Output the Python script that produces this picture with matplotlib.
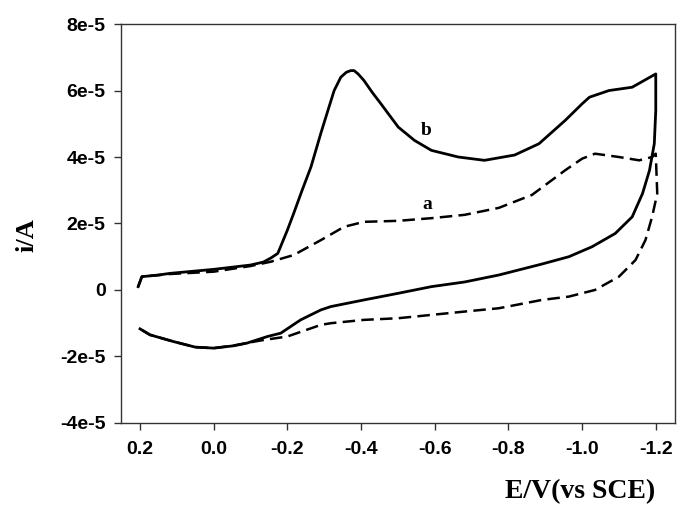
import matplotlib
matplotlib.use("Agg")
import matplotlib.pyplot as plt

# curve b (solid): forward scan then return scan, E in V, i in units of 1e-5 A
b_fwd_E = [0.205, 0.195, 0.15, 0.118, 0.0, -0.1, -0.135, -0.155, -0.174, -0.2, -0.217, -0.24, -0.264,
           -0.291, -0.31, -0.327, -0.345, -0.36, -0.372, -0.381, -0.392, -0.408, -0.43, -0.454, -0.501,
           -0.545, -0.591, -0.664, -0.735, -0.817, -0.883, -0.954, -1.0, -1.02, -1.073, -1.136, -1.2]
b_fwd_i = [0.1, 0.4, 0.45, 0.5, 0.62, 0.75, 0.84, 0.96, 1.1, 1.8, 2.3, 3.0, 3.7,
           4.72, 5.4, 6.0, 6.4, 6.55, 6.6, 6.6, 6.5, 6.3, 5.95, 5.6, 4.9,
           4.5, 4.2, 4.0, 3.9, 4.06, 4.4, 5.1, 5.6, 5.8, 6.0, 6.1, 6.5]
b_ret_E = [-1.2, -1.2, -1.196, -1.183, -1.164, -1.136, -1.09, -1.027, -0.964, -0.891, -0.774,
           -0.681, -0.591, -0.501, -0.408, -0.318, -0.291, -0.236, -0.182, -0.146, -0.09, -0.054,
           0.0, 0.05, 0.11, 0.173, 0.2]
b_ret_i = [6.5, 5.4, 4.4, 3.6, 2.9, 2.2, 1.7, 1.3, 1.0, 0.78, 0.45,
           0.24, 0.1, -0.1, -0.3, -0.5, -0.6, -0.9, -1.3, -1.4, -1.6, -1.68,
           -1.75, -1.72, -1.55, -1.35, -1.17]

# curve a (dashed)
a_fwd_E = [0.205, 0.195, 0.118, 0.0, -0.1, -0.155, -0.217, -0.291, -0.354, -0.408, -0.501,
           -0.591, -0.681, -0.774, -0.864, -0.954, -1.0, -1.035, -1.1, -1.155, -1.19, -1.2]
a_fwd_i = [0.1, 0.4, 0.48, 0.55, 0.72, 0.85, 1.05, 1.5, 1.9, 2.05, 2.08,
           2.16, 2.26, 2.47, 2.86, 3.6, 3.95, 4.1, 4.0, 3.9, 4.0, 4.1]
a_ret_E = [-1.2, -1.204, -1.19, -1.172, -1.145, -1.1, -1.035, -0.964, -0.891, -0.774, -0.681,
           -0.591, -0.501, -0.408, -0.318, -0.291, -0.2, -0.127, -0.05, 0.0, 0.05, 0.11, 0.173, 0.2]
a_ret_i = [4.1, 2.9, 2.2, 1.5, 0.9, 0.4, 0.0, -0.2, -0.3, -0.55, -0.65,
           -0.75, -0.85, -0.9, -1.0, -1.05, -1.4, -1.52, -1.68, -1.75, -1.72, -1.55, -1.35, -1.17]

x_ticks = [0.2, 0.0, -0.2, -0.4, -0.6, -0.8, -1.0, -1.2]
x_labels = ["0.2", "0.0", "-0.2", "-0.4", "-0.6", "-0.8", "-1.0", "-1.2"]
y_ticks = [-4e-5, -2e-5, 0, 2e-5, 4e-5, 6e-5, 8e-5]
y_labels = ["-4e-5", "-2e-5", "0", "2e-5", "4e-5", "6e-5", "8e-5"]

scale = 1e-5

fig = plt.figure(figsize=(6.79, 5.12), dpi=100)
ax = fig.add_axes([0.178, 0.174, 0.816, 0.779])

ax.plot(b_fwd_E + b_ret_E, [v * scale for v in b_fwd_i + b_ret_i], color="black", lw=2.0)
ax.plot(a_fwd_E + a_ret_E, [v * scale for v in a_fwd_i + a_ret_i], color="black", lw=1.8,
        dashes=(5, 2.5))

ax.text(-0.577, 4.8e-5, "b", fontfamily="Liberation Serif", fontweight="bold", fontsize=14,
        ha="center", va="center")
ax.text(-0.58, 2.56e-5, "a", fontfamily="Liberation Serif", fontweight="bold", fontsize=14,
        ha="center", va="center")

ax.set_xlim(0.252, -1.252)
ax.set_ylim(-4e-5, 8e-5)
ax.set_xticks(x_ticks)
ax.set_xticklabels(x_labels)
ax.set_yticks(y_ticks)
ax.set_yticklabels(y_labels)

for lab in ax.get_xticklabels() + ax.get_yticklabels():
    lab.set_fontfamily("Liberation Sans")
    lab.set_fontweight("bold")
    lab.set_fontsize(14)

ax.tick_params(axis="both", direction="out", length=5, width=1, color="#333333")
ax.tick_params(axis="x", pad=8)
ax.tick_params(axis="y", pad=6)
for s in ax.spines.values():
    s.set_linewidth(1.0)
    s.set_color("#333333")

ax.set_xlabel("E/V(vs SCE)", fontfamily="Liberation Serif", fontweight="bold", fontsize=20)
ax.xaxis.set_label_coords(0.828, -0.14)
ax.set_ylabel("i/A", fontfamily="Liberation Serif", fontweight="bold", fontsize=19, va="center")
ax.yaxis.set_label_coords(-0.17, 0.47)

fig.savefig("out.png", dpi=100)
